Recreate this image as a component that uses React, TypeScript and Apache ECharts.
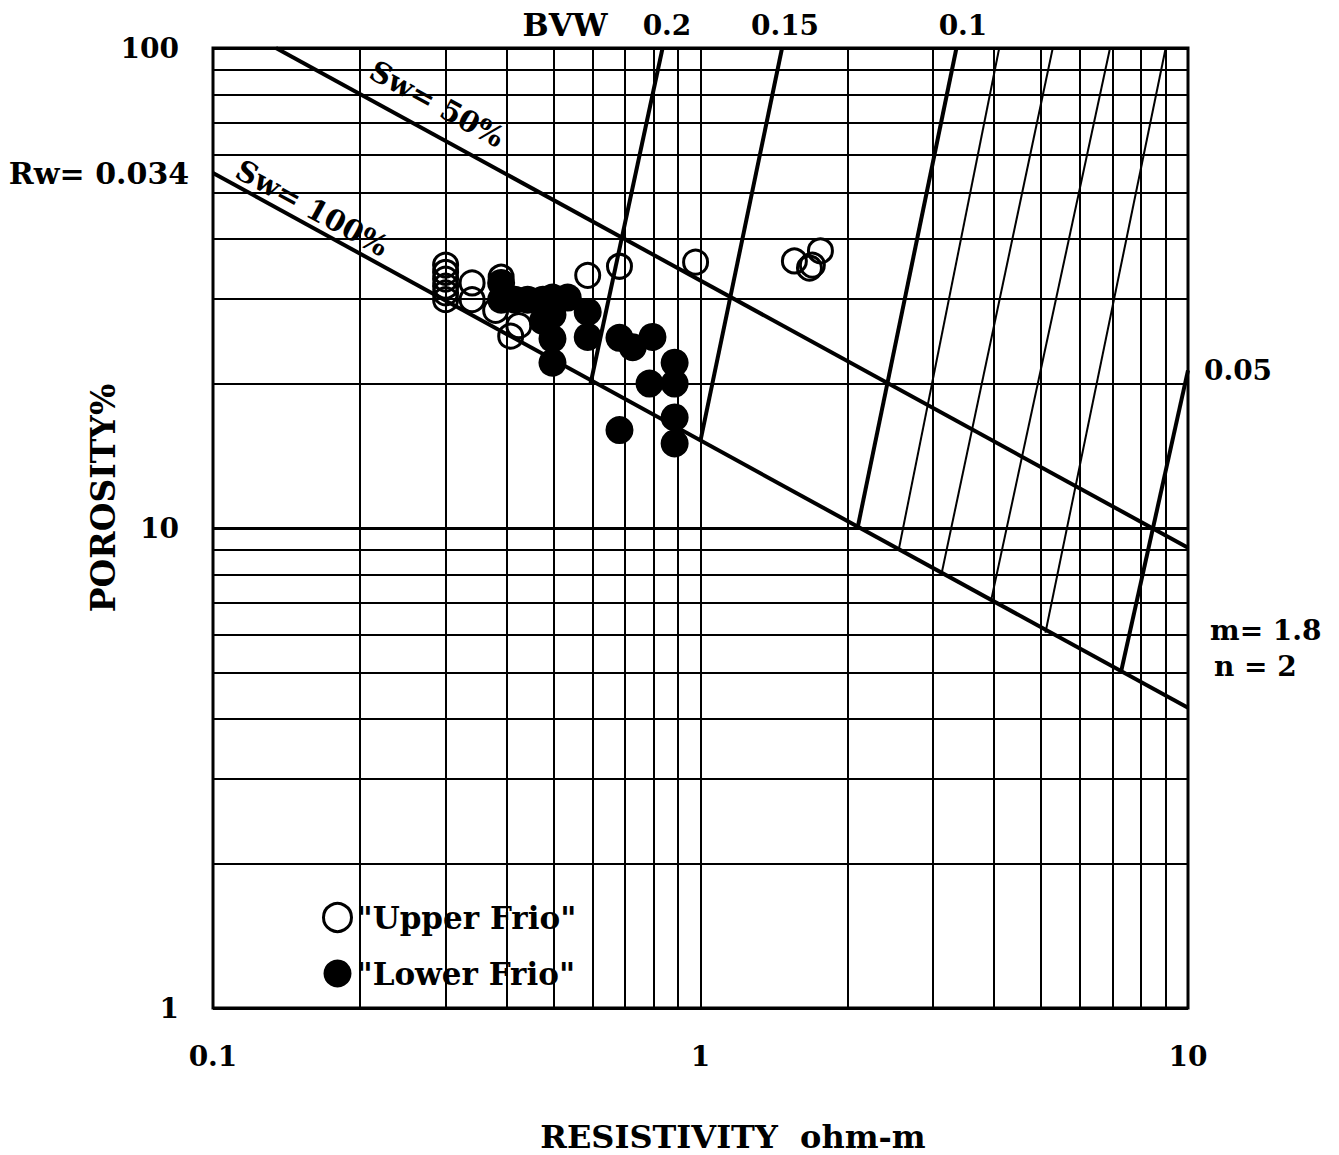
import React, { useEffect, useRef } from "react";
import * as echarts from "echarts";

// Data: [resistivity ohm-m, porosity %]
const upperFrio: [number, number][] = [
  [0.3, 35.3], [0.3, 34.1], [0.3, 33.0], [0.3, 31.9], [0.3, 30.9], [0.3, 29.9],
  [0.34, 32.4], [0.34, 29.9],
  [0.39, 33.3], [0.38, 28.4],
  [0.408, 25.1], [0.424, 26.4],
  [0.587, 33.6], [0.682, 35.1], [0.977, 35.8],
  [1.558, 36.0], [1.673, 34.8], [1.696, 35.3], [1.762, 37.8],
];

const lowerFrio: [number, number][] = [
  [0.39, 32.4], [0.39, 29.9], [0.416, 29.9], [0.442, 29.9], [0.475, 29.9],
  [0.497, 30.2], [0.534, 30.2], [0.497, 27.8], [0.475, 27.0], [0.497, 24.8],
  [0.587, 28.2], [0.587, 25.0], [0.497, 22.1],
  [0.682, 24.9], [0.726, 23.8], [0.797, 25.0],
  [0.885, 22.1], [0.885, 20.0], [0.786, 20.0],
  [0.885, 17.0], [0.682, 16.0], [0.885, 15.0],
];

// Grid lines (minor log ticks)
const xMinorGrid = [0.2, 0.3, 0.4, 0.5, 0.6, 0.7, 0.8, 0.9, 2, 3, 4, 5, 6, 7, 8, 9];
const yMinorGrid = [2, 3, 4, 5, 6, 7, 8, 9, 20, 30, 40, 50, 60, 70, 80, 90];
const xTickLabels = ["0.1", "1", "10"];
const yTickLabels = ["1", "10", "100"];

// Saturation lines (end points)
const sw100: [number, number][] = [[0.1, 54.9], [10, 4.22]];
const sw50: [number, number][] = [[0.1346, 100], [10, 9.1]];

// Bulk volume water lines (end points)
const bvw020: [number, number][] = [[0.595, 20], [0.836, 100]];
const bvw015: [number, number][] = [[1.0, 15.2], [1.47, 100]];
const bvw010: [number, number][] = [[2.1, 10], [3.35, 100]];
const bvw009: [number, number][] = [[2.55, 9], [4.1, 100]];
const bvw008: [number, number][] = [[3.12, 8], [5.28, 100]];
const bvw007: [number, number][] = [[3.95, 7.1], [6.92, 100]];
const bvw006: [number, number][] = [[5.1, 6.05], [9.0, 100]];
const bvw005: [number, number][] = [[7.3, 5.05], [10, 21.3]];

const FONT = '"DejaVu Serif", serif';

export default function App() {
  const ref = useRef<HTMLDivElement>(null);

  useEffect(() => {
    document.body.style.margin = "0";
    if (!ref.current) return;
    const chart = echarts.init(ref.current, undefined, { renderer: "svg" });

    const lineSeries = (data: [number, number][], width: number) => ({
      type: "line",
      data,
      symbol: "none",
      silent: true,
      z: 3,
      lineStyle: { color: "#000", width },
    });

    const txt = (
      text: string,
      x: number,
      y: number,
      size: number,
      align: string = "center",
      rotation: number = 0
    ) => ({
      type: "text",
      x,
      y,
      rotation,
      z: 10,
      style: {
        text,
        fill: "#000",
        fontFamily: FONT,
        fontWeight: "bold",
        fontSize: size,
        textAlign: align,
        textVerticalAlign: "middle",
        verticalAlign: "middle",
      },
    });

    const option: any = {
      animation: false,
      backgroundColor: "#fff",
      grid: {
        left: 213,
        right: 151,
        top: 48,
        bottom: 147,
        show: true,
        borderColor: "#000",
        borderWidth: 3,
      },
      xAxis: {
        type: "log",
        logBase: 10,
        min: 0.1,
        max: 10,
        axisLine: { show: false },
        axisTick: { show: false },
        splitLine: { show: true, lineStyle: { color: "#000", width: 2 } },
        axisLabel: {
          margin: 34,
          color: "#000",
          fontFamily: FONT,
          fontWeight: "bold",
          fontSize: 28,
          formatter: (v: number) =>
            v < 0.5 ? xTickLabels[0] : v < 5 ? xTickLabels[1] : xTickLabels[2],
        },
      },
      yAxis: {
        type: "log",
        logBase: 10,
        min: 1,
        max: 100,
        axisLine: { show: false },
        axisTick: { show: false },
        splitLine: { show: true, lineStyle: { color: "#000", width: 3 } },
        axisLabel: {
          margin: 34,
          color: "#000",
          fontFamily: FONT,
          fontWeight: "bold",
          fontSize: 28,
          formatter: (v: number) =>
            v < 5 ? yTickLabels[0] : v < 50 ? yTickLabels[1] : yTickLabels[2],
        },
      },
      legend: {
        orient: "vertical",
        left: 322,
        top: 902,
        padding: 0,
        itemWidth: 28,
        itemHeight: 28,
        itemGap: 25,
        textStyle: {
          color: "#000",
          fontFamily: FONT,
          fontWeight: "bold",
          fontSize: 31,
          lineHeight: 28,
        },
        data: [
          {
            name: '"Upper Frio"',
            icon: "circle",
            itemStyle: { color: "rgba(0,0,0,0)", borderColor: "#000", borderWidth: 3 },
          },
          { name: '"Lower Frio"', icon: "circle", itemStyle: { color: "#000" } },
        ],
      },
      series: [
        {
          type: "line",
          data: [],
          silent: true,
          z: 2,
          markLine: {
            silent: true,
            symbol: "none",
            label: { show: false },
            lineStyle: { color: "#000", width: 2, type: "solid" },
            data: [
              ...xMinorGrid.map((v) => ({ xAxis: v })),
              ...yMinorGrid.map((v) => ({ yAxis: v })),
            ],
          },
        },
        lineSeries(sw100, 4),
        lineSeries(sw50, 4),
        lineSeries(bvw020, 4),
        lineSeries(bvw015, 4),
        lineSeries(bvw010, 4),
        lineSeries(bvw009, 2),
        lineSeries(bvw008, 2),
        lineSeries(bvw007, 2),
        lineSeries(bvw006, 2),
        lineSeries(bvw005, 4),
        {
          name: '"Lower Frio"',
          type: "scatter",
          data: lowerFrio,
          symbol: "circle",
          symbolSize: 28,
          z: 5,
          itemStyle: { color: "#000", opacity: 1 },
        },
        {
          name: '"Upper Frio"',
          type: "scatter",
          data: upperFrio,
          symbol: "circle",
          symbolSize: 24,
          z: 6,
          itemStyle: {
            color: "rgba(0,0,0,0)",
            borderColor: "#000",
            borderWidth: 3,
            opacity: 1,
          },
        },
      ],
      graphic: [
        txt("BVW", 565, 25, 31),
        txt("0.2", 667, 25, 28),
        txt("0.15", 785, 25, 28),
        txt("0.1", 963, 25, 28),
        txt("Rw= 0.034", 99, 173, 30),
        txt("0.05", 1238, 370, 28),
        txt("m= 1.8", 1210, 630, 28, "left"),
        txt("n = 2", 1214, 666, 28, "left"),
        txt("POROSITY%", 103, 498, 33, "center", Math.PI / 2),
        txt("RESISTIVITY  ohm-m", 733, 1137, 32),
        txt("Sw= 50%", 437, 104, 29, "center", -0.5),
        txt("Sw= 100%", 312, 208, 29, "center", -0.5),
      ],
    };

    chart.setOption(option);
    return () => chart.dispose();
  }, []);

  return <div ref={ref} style={{ width: 1339, height: 1155 }} />;
}
